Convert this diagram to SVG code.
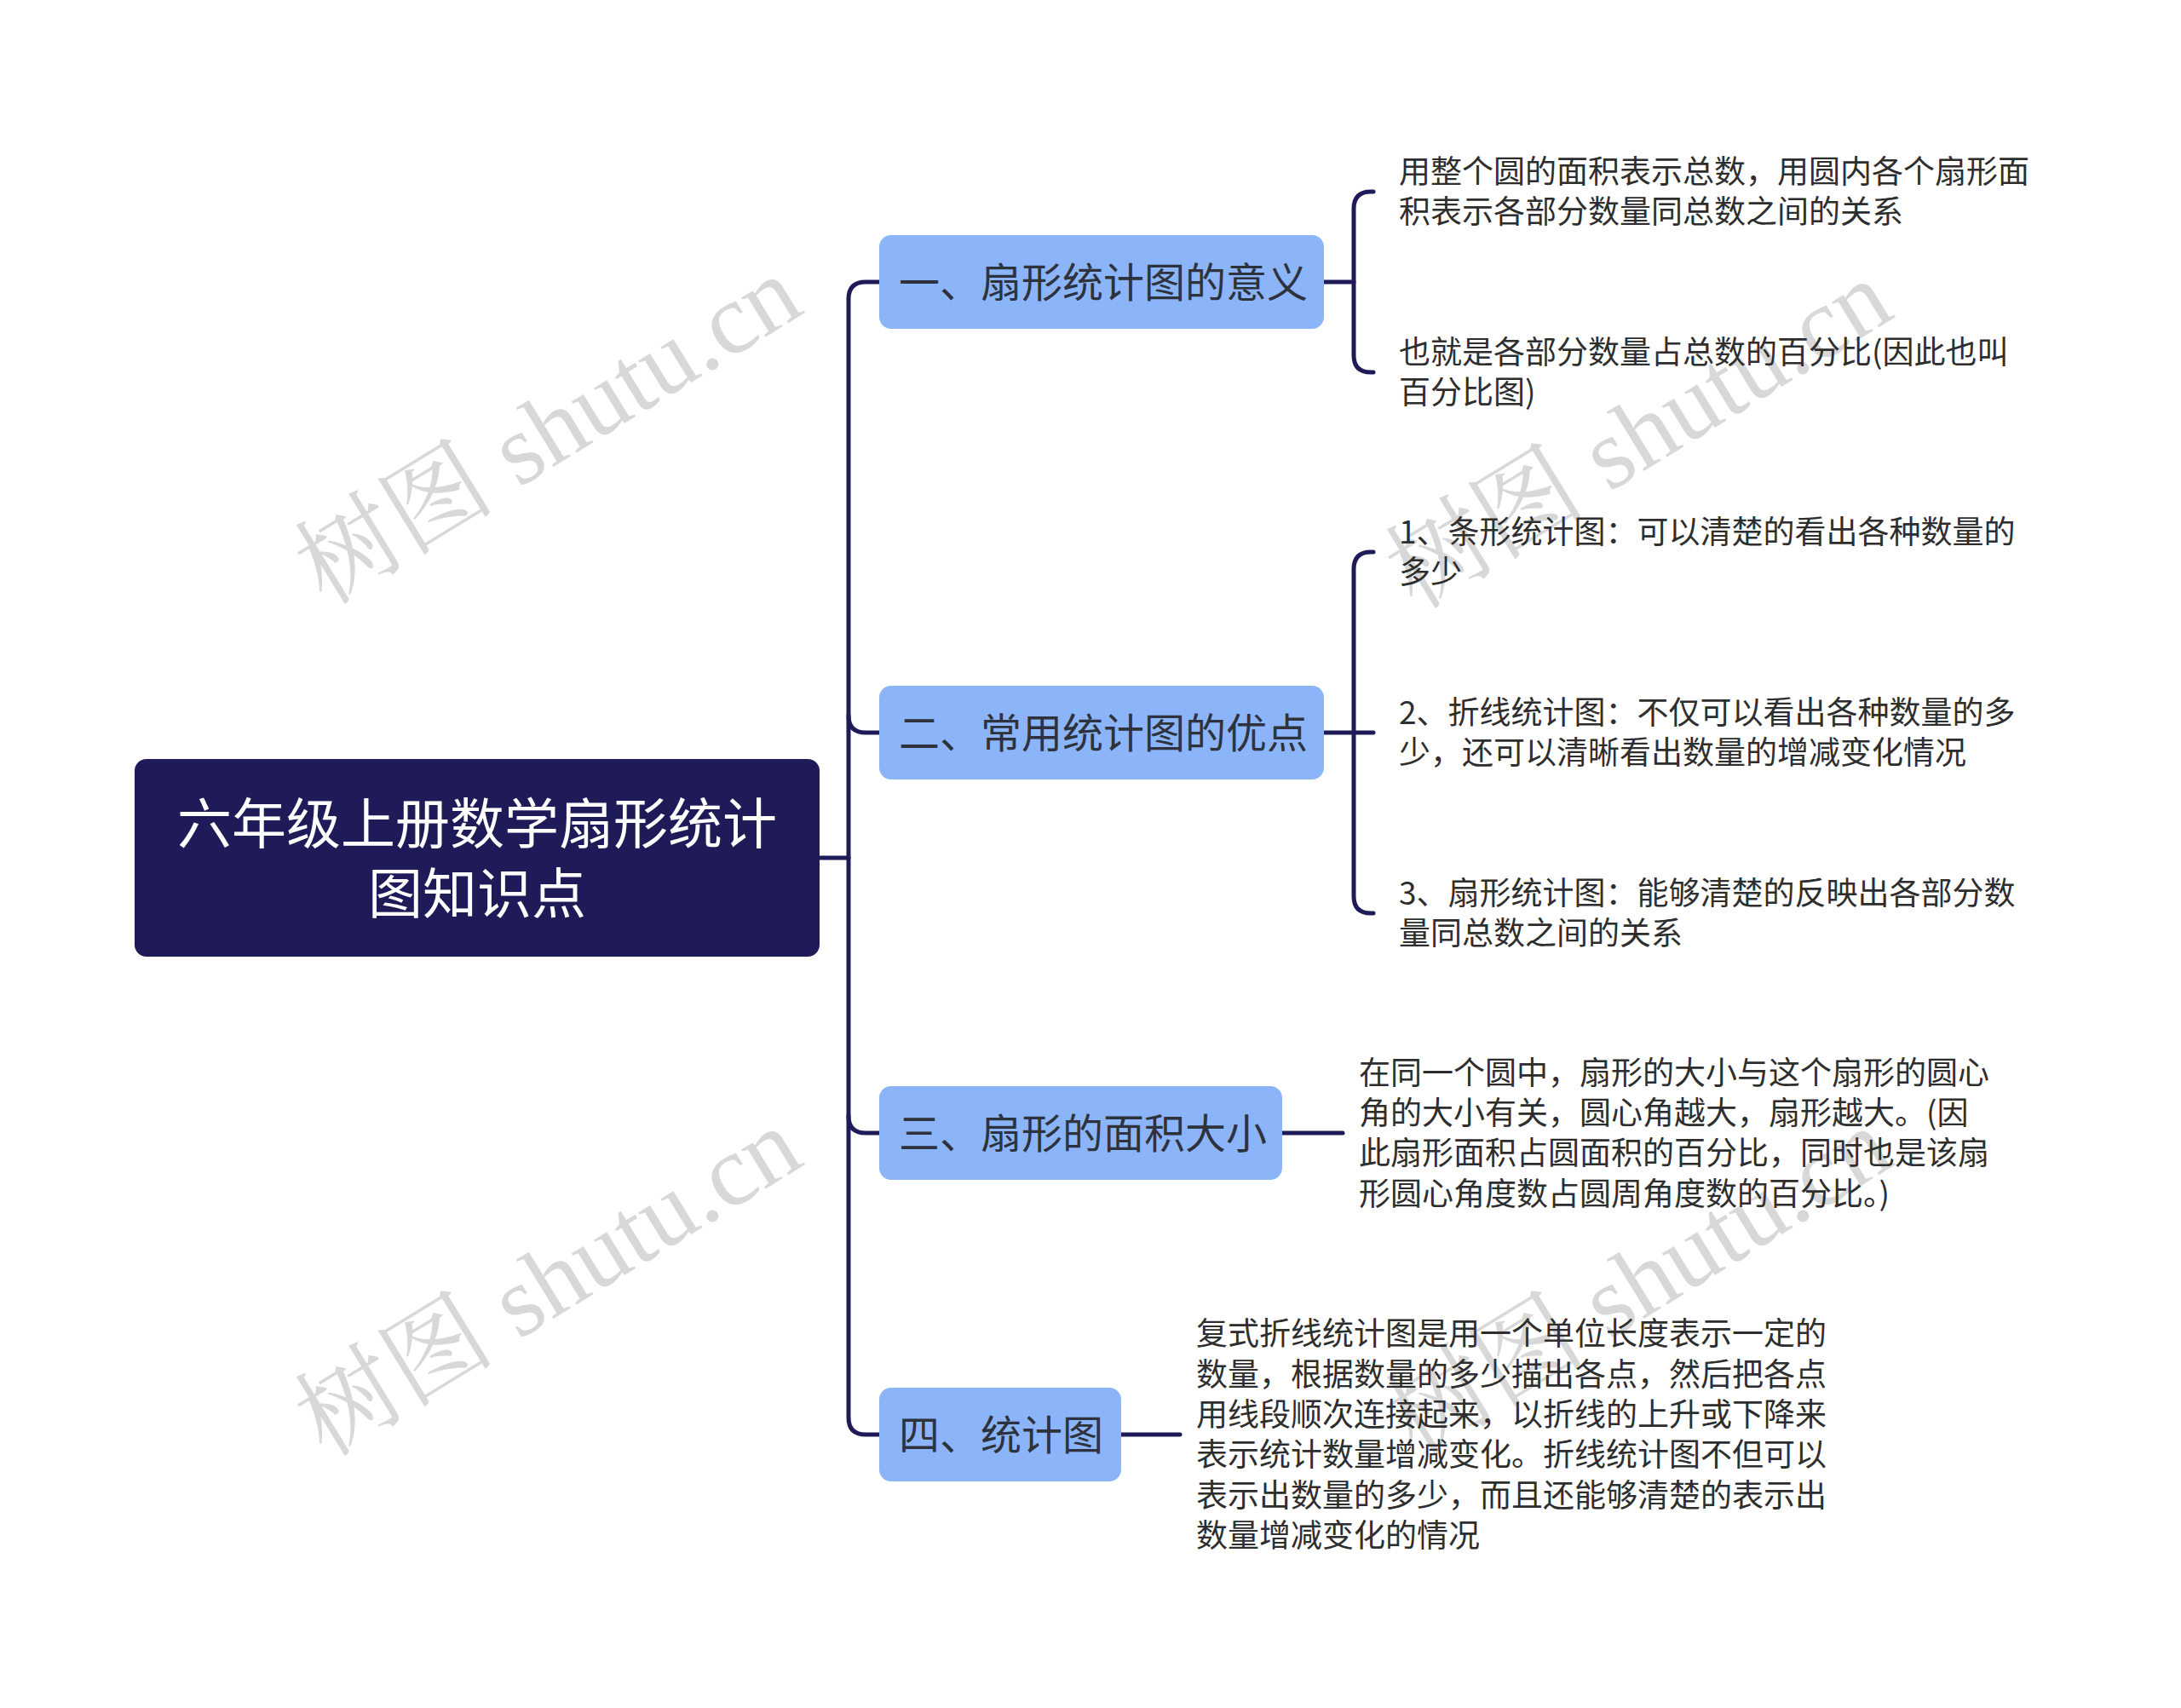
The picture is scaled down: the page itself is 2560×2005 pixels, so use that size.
<svg xmlns="http://www.w3.org/2000/svg" width="2560" height="2005" viewBox="0 0 2560 2005">
<style>
.wm{font-family:"Liberation Serif","Noto Serif CJK SC","Noto Sans CJK SC",serif;font-size:118px;fill:#d8d8d8}
.root-t{font-family:"Noto Sans CJK SC","Noto Sans",sans-serif;font-size:64px;fill:#ffffff;text-anchor:middle}
.br-t{font-family:"Noto Sans CJK SC","Noto Sans",sans-serif;font-size:48px;fill:#2e323c}
.lf-t{font-family:"Noto Sans CJK SC","Noto Sans",sans-serif;font-size:37px;fill:#2e2e2e}
.br{fill:#8bb5f8}
.conn{fill:none;stroke:#1e1b58;stroke-width:5;stroke-linecap:round}
</style>
<rect width="2560" height="2005" fill="#ffffff"/>
<g id="watermarks">
<text class="wm" transform="translate(382,712) rotate(-31.5)">树图 shutu.cn</text>
<text class="wm" transform="translate(382,1712) rotate(-31.5)">树图 shutu.cn</text>
<text class="wm" transform="translate(1662,717) rotate(-31.5)">树图 shutu.cn</text>
<text class="wm" transform="translate(1662,1712) rotate(-31.5)">树图 shutu.cn</text>
</g>
<g id="connectors">
<path class="conn" d="M962,1007 H996"/>
<path class="conn" d="M1032,331 H1016 Q996,331 996,351 V1664 Q996,1684 1016,1684 H1032"/>
<path class="conn" d="M996,840 Q996,860 1016,860 H1032"/>
<path class="conn" d="M996,1310 Q996,1330 1016,1330 H1032"/>
<path class="conn" d="M1554,331 H1589"/>
<path class="conn" d="M1612,225 H1609 Q1589,225 1589,245 V417 Q1589,437 1609,437 H1612"/>
<path class="conn" d="M1554,860 H1612"/>
<path class="conn" d="M1612,648 H1609 Q1589,648 1589,668 V1052 Q1589,1072 1609,1072 H1612"/>
<path class="conn" d="M1505,1330 H1576"/>
<path class="conn" d="M1316,1684 H1385"/>
</g>
<g id="root">
<rect x="158" y="891" width="804" height="232" rx="14" fill="#1e1b58"/>
<text class="root-t" x="560" y="990">六年级上册数学扇形统计</text>
<text class="root-t" x="560" y="1072">图知识点</text>
</g>
<g id="n1">
<rect class="br" x="1032" y="276" width="522" height="110" rx="14"/>
<text class="br-t" x="1055" y="349">一、扇形统计图的意义</text>
</g>
<g id="n1a">
<text class="lf-t" x="1642" y="215">用整个圆的面积表示总数，用圆内各个扇形面</text>
<text class="lf-t" x="1642" y="262">积表示各部分数量同总数之间的关系</text>
</g>
<g id="n1b">
<text class="lf-t" x="1642" y="427">也就是各部分数量占总数的百分比(因此也叫</text>
<text class="lf-t" x="1642" y="474">百分比图)</text>
</g>
<g id="n2">
<rect class="br" x="1032" y="805" width="522" height="110" rx="14"/>
<text class="br-t" x="1055" y="878">二、常用统计图的优点</text>
</g>
<g id="n2a">
<text class="lf-t" x="1642" y="638">1、条形统计图：可以清楚的看出各种数量的</text>
<text class="lf-t" x="1642" y="685">多少</text>
</g>
<g id="n2b">
<text class="lf-t" x="1642" y="850">2、折线统计图：不仅可以看出各种数量的多</text>
<text class="lf-t" x="1642" y="897">少，还可以清晰看出数量的增减变化情况</text>
</g>
<g id="n2c">
<text class="lf-t" x="1642" y="1062">3、扇形统计图：能够清楚的反映出各部分数</text>
<text class="lf-t" x="1642" y="1109">量同总数之间的关系</text>
</g>
<g id="n3">
<rect class="br" x="1032" y="1275" width="473" height="110" rx="14"/>
<text class="br-t" x="1055" y="1348">三、扇形的面积大小</text>
</g>
<g id="n3a">
<text class="lf-t" x="1595" y="1273">在同一个圆中，扇形的大小与这个扇形的圆心</text>
<text class="lf-t" x="1595" y="1320">角的大小有关，圆心角越大，扇形越大。(因</text>
<text class="lf-t" x="1595" y="1367">此扇形面积占圆面积的百分比，同时也是该扇</text>
<text class="lf-t" x="1595" y="1415">形圆心角度数占圆周角度数的百分比。)</text>
</g>
<g id="n4">
<rect class="br" x="1032" y="1629" width="284" height="110" rx="14"/>
<text class="br-t" x="1055" y="1702">四、统计图</text>
</g>
<g id="n4a">
<text class="lf-t" x="1404" y="1579">复式折线统计图是用一个单位长度表示一定的</text>
<text class="lf-t" x="1404" y="1627">数量，根据数量的多少描出各点，然后把各点</text>
<text class="lf-t" x="1404" y="1674">用线段顺次连接起来，以折线的上升或下降来</text>
<text class="lf-t" x="1404" y="1721">表示统计数量增减变化。折线统计图不但可以</text>
<text class="lf-t" x="1404" y="1769">表示出数量的多少，而且还能够清楚的表示出</text>
<text class="lf-t" x="1404" y="1816">数量增减变化的情况</text>
</g>
</svg>
